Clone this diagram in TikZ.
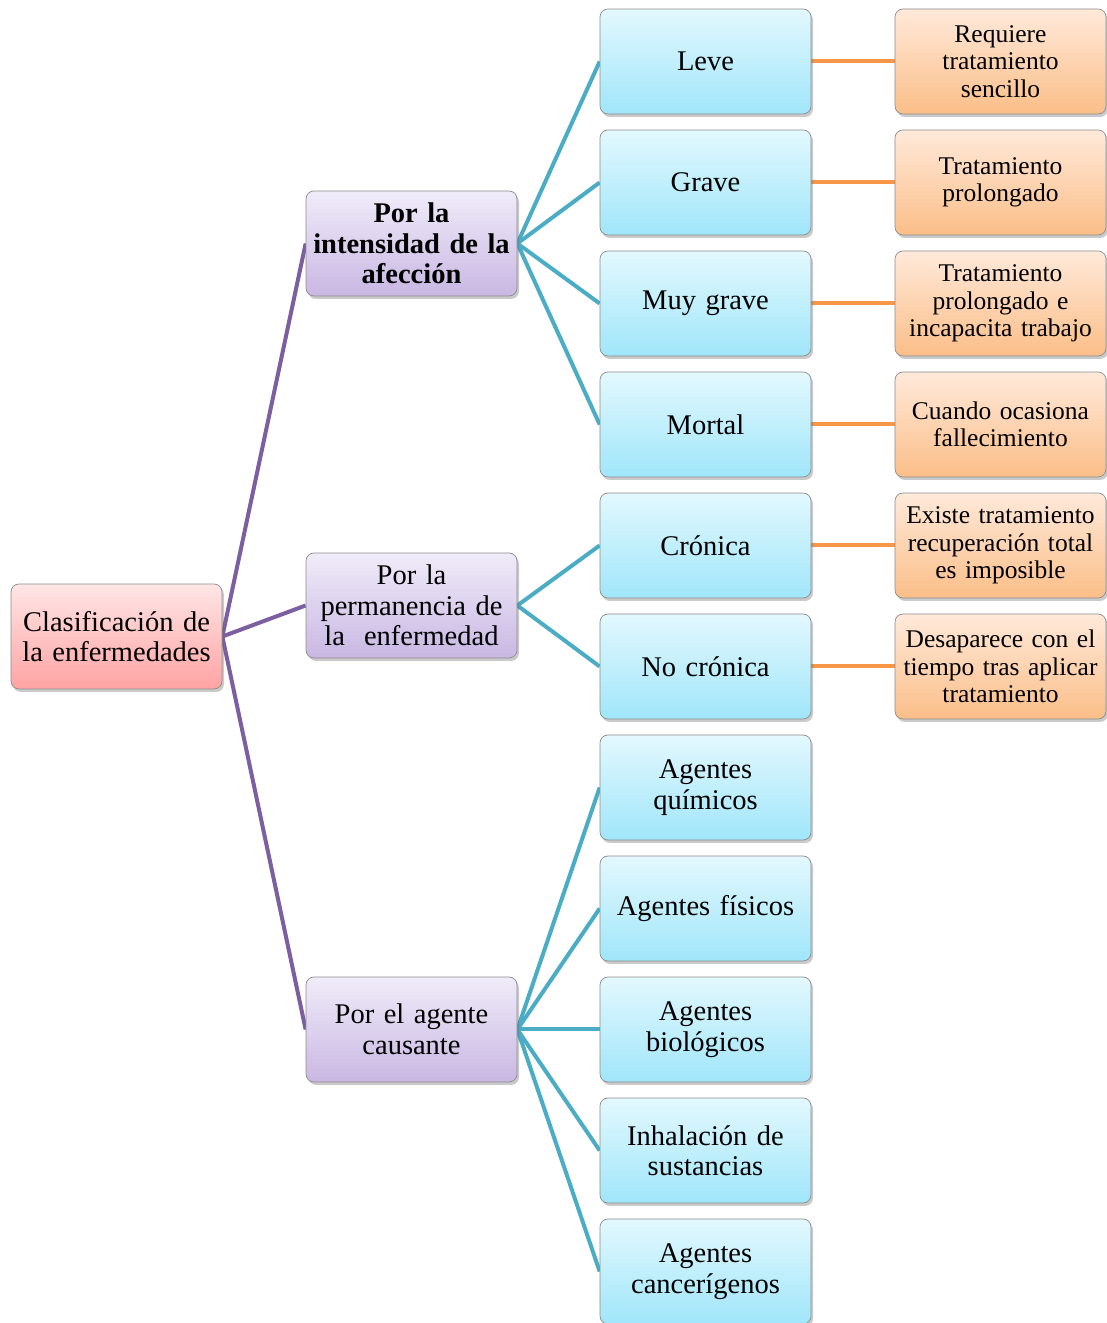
\documentclass[tikz,border=0pt]{standalone}
\usepackage{fontspec}
\setmainfont{Liberation Serif}
\usetikzlibrary{shadows,backgrounds}
\definecolor{linkpurple}{HTML}{7B5FA0}
\definecolor{linkteal}{HTML}{4BACC6}
\definecolor{linkorange}{HTML}{F79646}
\definecolor{roottop}{HTML}{FFE6E6}
\definecolor{rootbot}{HTML}{FFA3A3}
\definecolor{grouptop}{HTML}{F0ECF9}
\definecolor{groupbot}{HTML}{C9B7E3}
\definecolor{kindtop}{HTML}{E3F8FE}
\definecolor{kindbot}{HTML}{A0E6FA}
\definecolor{notetop}{HTML}{FFE9DA}
\definecolor{notebot}{HTML}{FBBE88}
\tikzset{
  box/.style={draw=black!45, line width=0.7pt, rounded corners=8pt,
    minimum width=211pt, minimum height=105pt, align=center,
    text width=207pt, inner sep=2pt,
    font=\fontsize{28.5}{30.5}\selectfont,
    drop shadow={shadow xshift=2pt, shadow yshift=-3pt, opacity=0.35, fill=black!60}},
  rootbox/.style={box, top color=roottop, bottom color=rootbot},
  groupbox/.style={box, top color=grouptop, bottom color=groupbot},
  kindbox/.style={box, top color=kindtop, bottom color=kindbot},
  notebox/.style={box, top color=notetop, bottom color=notebot,
    font=\fontsize{25.5}{27.5}\selectfont},
  trunk/.style={linkpurple, line width=4pt},
  branch/.style={linkteal, line width=4pt},
  leaf/.style={linkorange, line width=4pt}
}
\begin{document}
\begin{tikzpicture}[x=1pt,y=1pt]
\useasboundingbox (0,0) rectangle (1107,1323);
% root
\node[rootbox] (root) at (116.5,686.5) {Clasificación de\\la enfermedades};
% groups
\node[groupbox, font=\fontsize{28.5}{30.5}\selectfont\bfseries] (gint) at (411.5,1079.5) {Por la\\intensidad de la\\afección};
\node[groupbox] (gper) at (411.5,717.5) {Por la\\permanencia de\\la\ \ enfermedad};
\node[groupbox] (gage) at (411.5,293.5) {Por el agente\\causante};
% kinds
\node[kindbox] (leve) at (705.5,1261.5) {Leve};
\node[kindbox] (grave) at (705.5,1140.5) {Grave};
\node[kindbox] (muyg) at (705.5,1019.5) {Muy grave};
\node[kindbox] (mortal) at (705.5,898.5) {Mortal};
\node[kindbox] (cron) at (705.5,777.5) {Crónica};
\node[kindbox] (nocron) at (705.5,656.5) {No crónica};
\node[kindbox] (quim) at (705.5,535.5) {Agentes\\químicos};
\node[kindbox] (fis) at (705.5,414.5) {Agentes físicos};
\node[kindbox] (bio) at (705.5,293.5) {Agentes\\biológicos};
\node[kindbox] (inh) at (705.5,172.5) {Inhalación de\\sustancias};
\node[kindbox] (canc) at (705.5,51.5) {Agentes\\cancerígenos};
% notes
\node[notebox] (n1) at (1000.5,1261.5) {Requiere\\tratamiento\\sencillo};
\node[notebox] (n2) at (1000.5,1140.5) {Tratamiento\\prolongado};
\node[notebox] (n3) at (1000.5,1019.5) {Tratamiento\\prolongado e\\incapacita trabajo};
\node[notebox] (n4) at (1000.5,898.5) {Cuando ocasiona\\fallecimiento};
\node[notebox] (n5) at (1000.5,777.5) {Existe tratamiento\\recuperación total\\es imposible};
\node[notebox] (n6) at (1000.5,656.5) {Desaparece con el\\tiempo tras aplicar\\tratamiento};
% connectors
\begin{scope}[on background layer]
\foreach \g in {gint,gper,gage} \draw[trunk] (root.east) -- (\g.west);
\foreach \k in {leve,grave,muyg,mortal} \draw[branch] (gint.east) -- (\k.west);
\foreach \k in {cron,nocron} \draw[branch] (gper.east) -- (\k.west);
\foreach \k in {quim,fis,bio,inh,canc} \draw[branch] (gage.east) -- (\k.west);
\draw[leaf] (leve.east) -- (n1.west);
\draw[leaf] (grave.east) -- (n2.west);
\draw[leaf] (muyg.east) -- (n3.west);
\draw[leaf] (mortal.east) -- (n4.west);
\draw[leaf] (cron.east) -- (n5.west);
\draw[leaf] (nocron.east) -- (n6.west);
\end{scope}
\end{tikzpicture}
\end{document}
